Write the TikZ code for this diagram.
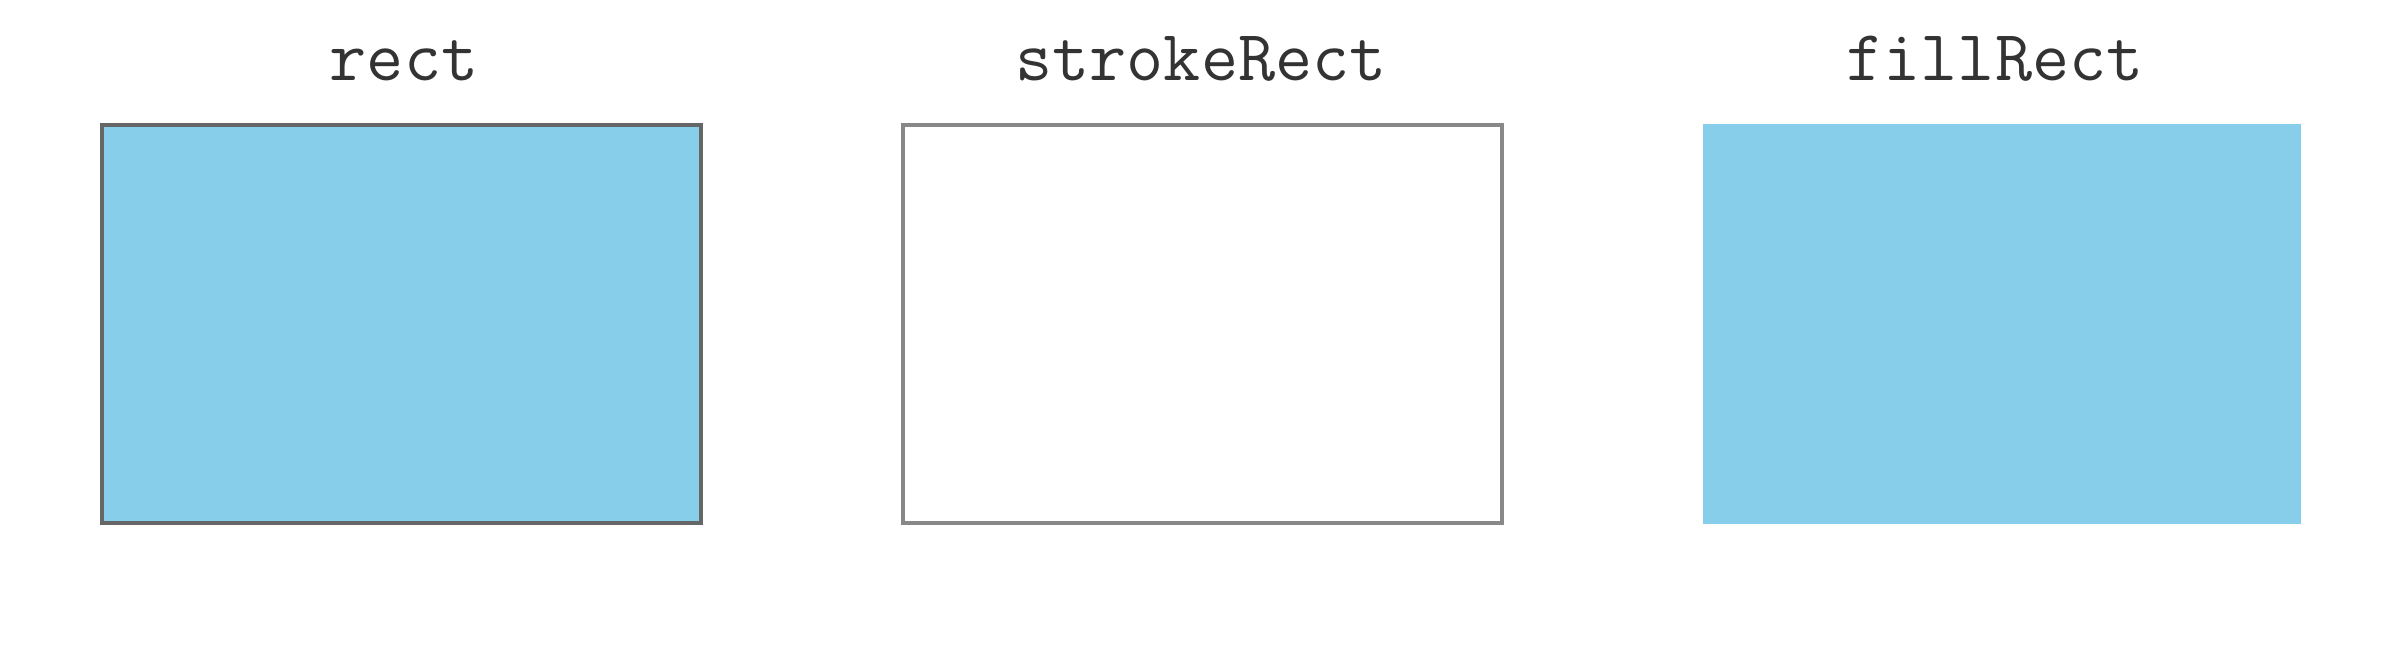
\documentclass[tikz,border=0pt]{standalone}
\usepackage{fontspec}
\definecolor{sky}{HTML}{87CEEB}
\definecolor{txt}{HTML}{333333}
\definecolor{edgeA}{HTML}{666666}
\definecolor{edgeB}{HTML}{888888}
\tikzset{
  box/.style={minimum width=599pt, minimum height=398pt, inner sep=0pt, outer sep=0pt, anchor=north west, line width=3.5pt},
  lbl/.style={font=\ttfamily\fontsize{72}{82}\selectfont, text=txt, anchor=base, inner sep=0pt}
}
\begin{document}
\begin{tikzpicture}[x=1pt,y=-1pt]
\useasboundingbox (0,0) rectangle (2392,662);
\node[box, fill=sky, draw=edgeA] (r1) at (102,125) {};
\node[box, draw=edgeB] (r2) at (903,125) {};
\node[box, fill=sky, minimum width=598pt, minimum height=400pt, line width=0pt] (r3) at (1702.5,123.5) {};
\node[lbl] (t1) at (404,80) {rect};
\node[lbl] (t2) at (1201,80) {strokeRect};
\node[lbl] (t3) at (1995,80) {fillRect};
\end{tikzpicture}
\end{document}
